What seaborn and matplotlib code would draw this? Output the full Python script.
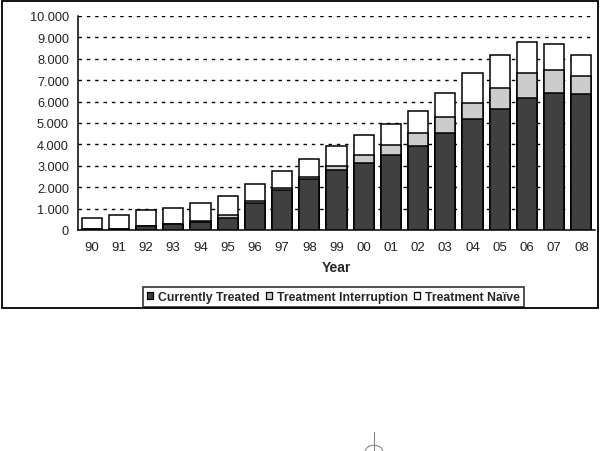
import numpy as np
import pandas as pd
import matplotlib
matplotlib.use("Agg")
import matplotlib.pyplot as plt
import seaborn as sns
from matplotlib.patches import Patch, Rectangle, Circle
from matplotlib.lines import Line2D
from matplotlib.ticker import FuncFormatter

years = ["90", "91", "92", "93", "94", "95", "96", "97", "98", "99",
         "00", "01", "02", "03", "04", "05", "06", "07", "08"]
currently_treated = [60, 60, 180, 265, 380, 580, 1250, 1870, 2370, 2790,
                     3145, 3505, 3925, 4550, 5170, 5670, 6170, 6420, 6340]
treatment_interruption = [0, 0, 20, 0, 50, 120, 100, 110, 120, 200,
                          360, 485, 625, 715, 780, 965, 1150, 1055, 855]
treatment_naive = [490, 640, 735, 780, 815, 890, 815, 790, 840, 935,
                   950, 950, 1025, 1155, 1370, 1525, 1465, 1200, 965]
series_names = ["Currently Treated", "Treatment Interruption", "Treatment Naïve"]
colors = ["#404040", "#cccccc", "#ffffff"]

df = pd.DataFrame({"Year": years,
                   "ct": currently_treated,
                   "ti": treatment_interruption,
                   "tn": treatment_naive})
df["lvl1"] = df["ct"]
df["lvl2"] = df["ct"] + df["ti"]
df["lvl3"] = df["lvl2"] + df["tn"]

sns.set_style("white")
plt.rcParams["font.family"] = ["Liberation Sans", "DejaVu Sans"]

fig = plt.figure(figsize=(6, 4.52), dpi=100)
ax = fig.add_axes([78/600, 1 - 231/452, (595 - 78)/600, (231 - 17)/452])

for col, c in zip(["lvl3", "lvl2", "lvl1"], colors[::-1]):
    sns.barplot(data=df, x="Year", y=col, color=c, saturation=1, width=0.74,
                edgecolor="black", linewidth=1.1, ax=ax, zorder=3)

ax.set_ylim(0, 10000)
ax.set_xlim(-0.5, len(years) - 0.5)
ax.set_yticks(np.arange(0, 10001, 1000))
ax.yaxis.set_major_formatter(FuncFormatter(lambda v, p: f"{int(v):,}".replace(",", ".")))
ax.grid(axis="y", color="black", linestyle=(0, (2.5, 3.5)), linewidth=1.0, zorder=0)
ax.set_axisbelow(True)
for s in ["top", "right"]:
    ax.spines[s].set_visible(False)
for s in ["left", "bottom"]:
    ax.spines[s].set_linewidth(1.1)
    ax.spines[s].set_color("black")

ax.tick_params(axis="y", direction="inout", length=7, width=1.1, labelsize=9.2, pad=3,
               labelcolor="#222222")
ax.tick_params(axis="x", length=0, labelsize=9.5, pad=8, labelcolor="#222222")
ax.set_xticks(np.arange(-0.5, len(years) - 0.5 + 1), minor=True)
ax.tick_params(axis="x", which="minor", direction="out", length=5, width=1.1)
ax.set_xlabel("Year", fontsize=10, fontweight="bold", labelpad=5)
ax.set_ylabel("")

handles = [Patch(facecolor=c, edgecolor="black", linewidth=0.9) for c in colors]
leg = fig.legend(handles, series_names, loc="center", bbox_to_anchor=(333.5/600, 1 - 298/452),
                 ncol=3, frameon=True, fancybox=False, handlelength=0.5, handleheight=0.5,
                 handletextpad=0.4, columnspacing=0.5, borderpad=0.3, borderaxespad=0,
                 prop={"weight": "bold", "size": 8.8})
leg.get_frame().set_edgecolor("black")
leg.get_frame().set_linewidth(1.2)

# outer chart frame
fig.patches.append(Rectangle((1.5/600, 1 - 309/452), 596.5/600, 307.5/452,
                             transform=fig.transFigure, fill=False,
                             edgecolor="black", linewidth=1.3))
# small crosshair mark near the bottom
fig.patches.append(Circle((374/600, 1 - 453/452), 9/452 * 0.75, transform=fig.transFigure,
                          fill=False, edgecolor="#888888", linewidth=0.8))
fig.lines.append(Line2D([374/600, 374/600], [1 - 452/452, 1 - 433/452],
                        transform=fig.transFigure, color="#888888", linewidth=0.8))

fig.savefig("out.png", dpi=100, facecolor="white")
